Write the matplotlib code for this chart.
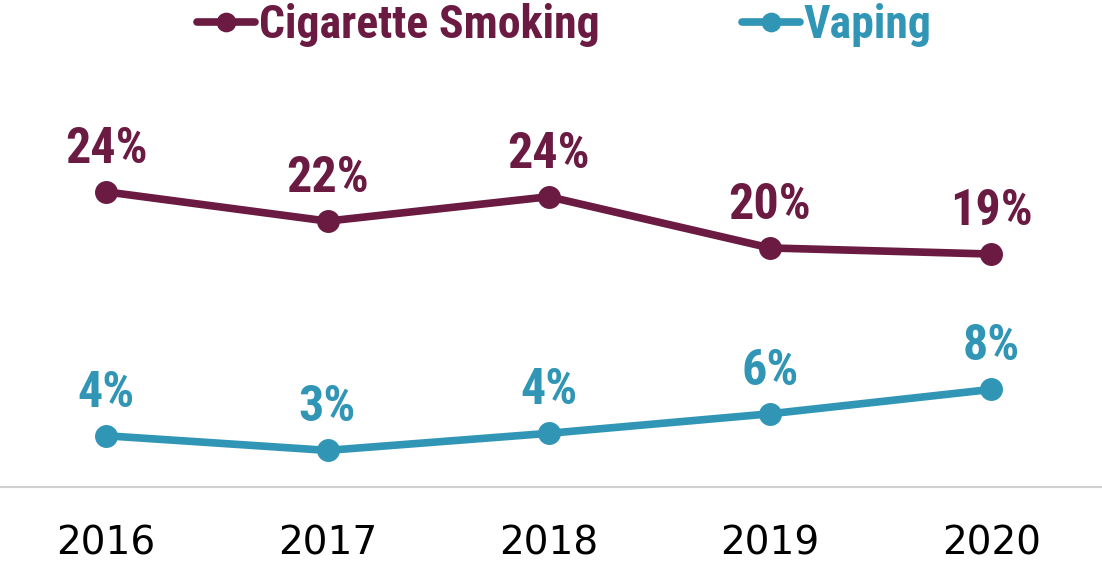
import matplotlib
matplotlib.use("Agg")
import matplotlib.pyplot as plt

years = ["2016", "2017", "2018", "2019", "2020"]
smoking = [24.2, 21.8, 23.8, 19.6, 19.1]
vaping = [4.2, 3.0, 4.4, 6.0, 8.0]

MAROON = "#6B1A42"
TEAL = "#3196B6"
LABEL_FONT = ["DejaVu Sans Condensed", "Roboto Condensed", "Liberation Sans Narrow",
              "Liberation Sans"]

fig = plt.figure(figsize=(11.02, 5.62), dpi=100)
ax = fig.add_axes([0.0, 0.1335, 1.0, 0.651])

x = range(len(years))
series = [("Cigarette Smoking", smoking, MAROON), ("Vaping", vaping, TEAL)]
for name, vals, color in series:
    ax.plot(x, vals, color=color, lw=5.5, marker="o", ms=15.5,
            solid_capstyle="round", label=name, clip_on=False)
    for xi, v in zip(x, vals):
        ax.annotate(f"{v:.0f}%", (xi, v), xytext=(0, 21), textcoords="offset points",
                    ha="center", va="baseline", color=color, fontsize=36,
                    fontweight="bold", family=LABEL_FONT)

ax.set_xlim(-0.48, 4.5)
ax.set_ylim(0, 30)
ax.set_xticks(list(x))
ax.set_xticklabels(years, fontsize=28, family="DejaVu Sans", color="black")
ax.tick_params(axis="x", length=0, pad=27)
ax.set_yticks([])
for side in ["top", "left", "right"]:
    ax.spines[side].set_visible(False)
ax.spines["bottom"].set_color("#D0D0D0")
ax.spines["bottom"].set_linewidth(1.5)

leg = fig.legend(loc="center", bbox_to_anchor=(0.512, 0.955), ncol=2, frameon=False,
                 handlelength=1.27, handletextpad=0.09, columnspacing=3.1,
                 prop={"family": LABEL_FONT, "weight": "bold", "size": 33},
                 labelcolor="linecolor", markerscale=0.85)

fig.savefig("out.png", dpi=100)
